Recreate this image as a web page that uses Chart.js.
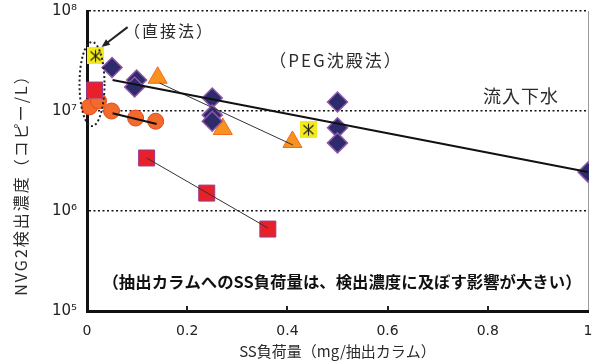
<!DOCTYPE html>
<html><head><meta charset="utf-8">
<script src="https://cdn.jsdelivr.net/npm/chart.js@4"></script>
<style>html,body{margin:0;padding:0;background:#fff}#wrap{width:592px;height:363px}</style>
</head><body><div id="wrap"><canvas id="c" width="592" height="363"></canvas></div>
<script>
// ---- data ----
const xTickValues = [0, 0.2, 0.4, 0.6, 0.8, 1];
const xTickLabels = ['0', '0.2', '0.4', '0.6', '0.8', '1'];
const yTickValues = [1e5, 1e6, 1e7, 1e8];
const yTickExponents = ['⁵', '⁶', '⁷', '⁸'];

// 流入下水 (PEG沈殿法) diamonds
const diamondX = [0.05, 0.099, 0.095, 0.25, 0.25, 0.25, 0.5, 0.5, 0.5, 1.0];
const diamondY = [2.72e7, 2.04e7, 1.74e7, 1.35e7, 9.1e6, 7.9e6, 1.23e7, 6.8e6, 4.8e6, 2.45e6];
// red squares
const squareX = [0.015, 0.119, 0.239, 0.361];
const squareY = [1.62e7, 3.39e6, 1.51e6, 6.6e5];
// orange circles
const circleX = [0.005, 0.023, 0.049, 0.097, 0.137];
const circleY = [1.1e7, 1.26e7, 1.0e7, 8.5e6, 7.9e6];
// orange triangles
const triangleX = [0.141, 0.271, 0.41];
const triangleY = [2.15e7, 6.6e6, 4.9e6];
// yellow asterisk squares
const starX = [0.017, 0.442];
const starY = [3.55e7, 6.5e6];
// fitted lines
const trendX = [0.051, 1.0];
const trendY = [2.04e7, 2.45e6];
const circleFitX = [0.051, 0.139];
const circleFitY = [9.5e6, 7.4e6];
const triFitX = [0.145, 0.411];
const triFitY = [1.9e7, 4.57e6];
const sqFitX = [0.119, 0.361];
const sqFitY = [3.39e6, 6.76e5];

const zip = (xs, ys) => xs.map((v, i) => ({x: v, y: ys[i]}));

// yellow square with asterisk marker
const starImg = document.createElement('canvas');
starImg.width = 17; starImg.height = 17;
(function(){
  const g = starImg.getContext('2d');
  g.fillStyle = '#f3ea1e'; g.fillRect(0, 0, 17, 17);
  g.strokeStyle = '#222'; g.lineWidth = 1.1;
  g.beginPath();
  g.moveTo(8.5, 2.5); g.lineTo(8.5, 14.5);
  g.moveTo(3.5, 4); g.lineTo(13.5, 13);
  g.moveTo(13.5, 4); g.lineTo(3.5, 13);
  g.stroke();
})();

const CJK = '"Noto Sans CJK JP", "DejaVu Sans", sans-serif';
const clipArea = {left: 30, top: 30, right: 1, bottom: 30};

function noPad(s) { s.paddingTop = 0; s.paddingBottom = 0; s.paddingLeft = 0; s.paddingRight = 0; }

const annot = {
  id: 'annot',
  afterDatasetsDraw(chart) {
    const {ctx, scales: {x, y}} = chart;
    ctx.save();
    // dotted ellipse around 直接法 points
    ctx.setLineDash([2, 2.5]);
    ctx.lineWidth = 2;
    ctx.strokeStyle = '#222';
    ctx.beginPath();
    ctx.ellipse(x.getPixelForValue(0.01), y.getPixelForValue(1.86e7), 12.5, 42, 0, 0, Math.PI * 2);
    ctx.stroke();
    ctx.setLineDash([]);
    // arrow
    const ax1 = x.getPixelForValue(0.081), ay1 = y.getPixelForValue(6.9e7);
    const ax2 = x.getPixelForValue(0.029), ay2 = y.getPixelForValue(4.37e7);
    ctx.lineWidth = 2;
    ctx.beginPath(); ctx.moveTo(ax1, ay1); ctx.lineTo(ax2 + 4, ay2 - 3); ctx.stroke();
    const ang = Math.atan2(ay2 - ay1, ax2 - ax1);
    ctx.fillStyle = '#222';
    ctx.beginPath();
    ctx.moveTo(ax2, ay2);
    ctx.lineTo(ax2 - 9 * Math.cos(ang - 0.4), ay2 - 9 * Math.sin(ang - 0.4));
    ctx.lineTo(ax2 - 9 * Math.cos(ang + 0.4), ay2 - 9 * Math.sin(ang + 0.4));
    ctx.closePath(); ctx.fill();
    // inward tick marks on x axis
    ctx.lineWidth = 2;
    const bottom = chart.chartArea.bottom;
    [0.2, 0.4, 0.6, 0.8].forEach(v => {
      const px = Math.round(x.getPixelForValue(v));
      ctx.beginPath(); ctx.moveTo(px, bottom); ctx.lineTo(px, bottom - 5); ctx.stroke();
    });
    // texts
    ctx.fillStyle = '#2a2a2a';
    ctx.textBaseline = 'middle';
    ctx.textAlign = 'center';
    ctx.letterSpacing = '2px';
    ctx.font = '16px ' + CJK;
    ctx.fillText('（直接法）', 169, 31);
    ctx.font = '17px ' + CJK;
    ctx.fillText('（PEG沈殿法）', 336, 61);
    ctx.letterSpacing = '1px';
    ctx.font = '18px ' + CJK;
    ctx.fillText('流入下水', 521, 96);
    ctx.letterSpacing = '0px';
    ctx.font = 'bold 16.4px ' + CJK;
    ctx.fillStyle = '#111';
    ctx.fillText('（抽出カラムへのSS負荷量は、検出濃度に及ぼす影響が大きい）', 342, 282);
    // y axis title
    ctx.fillStyle = '#2a2a2a';
    ctx.letterSpacing = '2px';
    ctx.font = '16px ' + CJK;
    ctx.translate(21, 181);
    ctx.rotate(-Math.PI / 2);
    ctx.fillText('NVG2検出濃度（コピー/L）', 0, 0);
    ctx.restore();
  }
};

new Chart(document.getElementById('c'), {
  type: 'scatter',
  data: {
    datasets: [
      {data: zip(trendX, trendY), showLine: true, borderColor: '#111', borderWidth: 2, pointRadius: 0, order: 1, clip: clipArea},
      {data: zip(circleFitX, circleFitY), showLine: true, borderColor: '#111', borderWidth: 2, pointRadius: 0, order: 1, clip: clipArea},
      {data: zip(triFitX, triFitY), showLine: true, borderColor: '#333', borderWidth: 1, pointRadius: 0, order: 1, clip: clipArea},
      {data: zip(sqFitX, sqFitY), showLine: true, borderColor: '#333', borderWidth: 1, pointRadius: 0, order: 1, clip: clipArea},
      {data: zip(starX, starY), pointStyle: starImg, pointRadius: 9, order: 2, clip: clipArea},
      {data: zip(diamondX, diamondY), pointStyle: 'rectRot', pointRadius: 10, backgroundColor: '#2d2b6c', borderColor: '#9058a8', borderWidth: 1.5, order: 3, clip: clipArea},
      {data: zip(triangleX, triangleY), pointStyle: 'triangle', pointRadius: 11, backgroundColor: '#f7921e', borderColor: '#f06a22', borderWidth: 1, order: 4, clip: clipArea},
      {data: zip(squareX, squareY), pointStyle: 'rect', pointRadius: 11.3, backgroundColor: '#e8202a', borderColor: '#9a3a8e', borderWidth: 1, order: 5, clip: clipArea},
      {data: zip(circleX, circleY), pointStyle: 'circle', pointRadius: 8, backgroundColor: '#f26a2c', borderColor: '#e8461e', borderWidth: 1, order: 6, clip: clipArea}
    ]
  },
  options: {
    responsive: false, animation: false, devicePixelRatio: 1,
    layout: {autoPadding: false, padding: {top: 11, right: 4, left: 0, bottom: 0}},
    plugins: {legend: {display: false}, tooltip: {enabled: false}},
    scales: {
      x: {
        type: 'linear', min: 0, max: 1,
        afterBuildTicks: s => { s.ticks = xTickValues.map(v => ({value: v})); },
        afterFit: s => { s.height = 52; noPad(s); },
        ticks: {callback: (v, i) => xTickLabels[i], font: {family: 'DejaVu Sans', size: 14}, color: '#222', padding: 12, maxRotation: 0},
        grid: {color: c => (c.tick && c.tick.value === 1) ? '#999' : 'rgba(0,0,0,0)', lineWidth: 1, drawTicks: false},
        border: {display: true, color: '#111', width: 3},
        title: {display: true, text: 'SS負荷量（mg/抽出カラム）', font: {family: CJK, size: 15}, color: '#2a2a2a', padding: {top: 0, bottom: 3}}
      },
      y: {
        type: 'logarithmic', min: 1e5, max: 1e8,
        afterBuildTicks: s => { s.ticks = yTickValues.map(v => ({value: v})); },
        afterFit: s => { s.width = 87; noPad(s); },
        ticks: {callback: (v) => '10' + yTickExponents[yTickValues.indexOf(v)], font: {family: 'DejaVu Sans', size: 15}, color: '#222', padding: 10},
        grid: {color: c => (c.tick && c.tick.value > 1e5) ? '#111' : 'rgba(0,0,0,0)', lineWidth: 1.6, drawTicks: false},
        border: {display: true, color: '#111', width: 3, dash: [2, 2.5]}
      }
    }
  },
  plugins: [annot]
});
</script></body></html>
